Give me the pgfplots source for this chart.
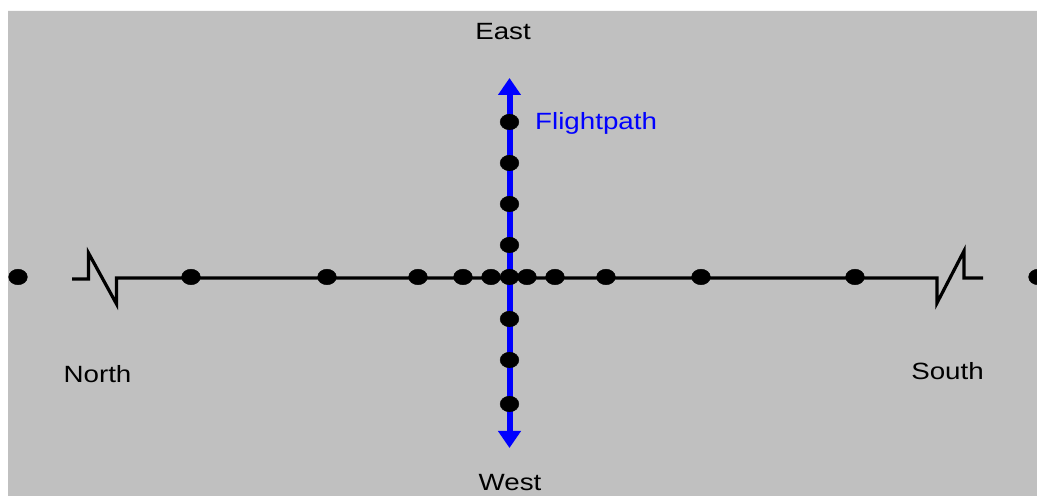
\documentclass[border=0pt]{standalone}
\usepackage{pgfplots}
\pgfplotsset{compat=1.18}
\usepackage{fontspec}
\setmainfont{Liberation Sans}
\usetikzlibrary{arrows.meta}
\definecolor{bggray}{HTML}{C0C0C0}
\tikzset{lbl/.style={font=\fontsize{23.5bp}{26bp}\selectfont, xscale=1.18, inner sep=0pt}}
\begin{document}
\begin{tikzpicture}
\useasboundingbox (0,0) rectangle (1037bp,496bp);
\clip (0,0) rectangle (1037bp,496bp);
\begin{axis}[
  at={(0,0)}, anchor=south west,
  scale only axis, width=1050bp, height=496bp,
  xmin=0, xmax=1050, ymin=0, ymax=496,
  hide axis, clip=true,
]
% background
\addplot[fill=white, draw=none] coordinates {(0,0) (1050,0) (1050,496) (0,496)} \closedcycle;
\addplot[fill=bggray, draw=none] coordinates {(8,0) (1050,0) (1050,485) (8,485)} \closedcycle;
% horizontal line with breaks
\addplot[black, line width=3.2bp, line join=miter, mark=none] coordinates {
 (72,217) (88.5,217) (88.5,243) (116.5,192) (116.5,218) (937,218) (937,193) (964,245) (964,218) (983,218)};
% flightpath
\addplot[blue, line width=6bp, mark=none, {Triangle[width=22bp,length=17bp]}-{Triangle[width=22bp,length=17bp]}] coordinates {(509.5,48) (509.5,418)};
% dots on horizontal line
\addplot[only marks, mark=*, mark size=7.8bp, mark options={black, fill=black, xscale=1.2}] coordinates {
 (18,219) (191,219) (327,219) (418,219) (463,219) (491,219) (509.5,219) (527,219) (555,219) (606,219) (701,219) (855,219) (1038,219)};
% dots on flight path
\addplot[only marks, mark=*, mark size=7.8bp, mark options={black, fill=black, xscale=1.2}] coordinates {
 (509.5,374) (509.5,333) (509.5,292) (509.5,251) (509.5,177) (509.5,136) (509.5,92)};
% labels
\node[lbl, anchor=base] at (axis cs:503,456.7) {East};
\node[lbl, anchor=base] at (axis cs:510,6) {West};
\node[lbl, anchor=base] at (axis cs:97.5,113.7) {North};
\node[lbl, anchor=base] at (axis cs:947.5,116.5) {South};
\node[lbl, anchor=base west, text=blue] at (axis cs:535,366.7) {Flightpath};
\end{axis}
\end{tikzpicture}
\end{document}
